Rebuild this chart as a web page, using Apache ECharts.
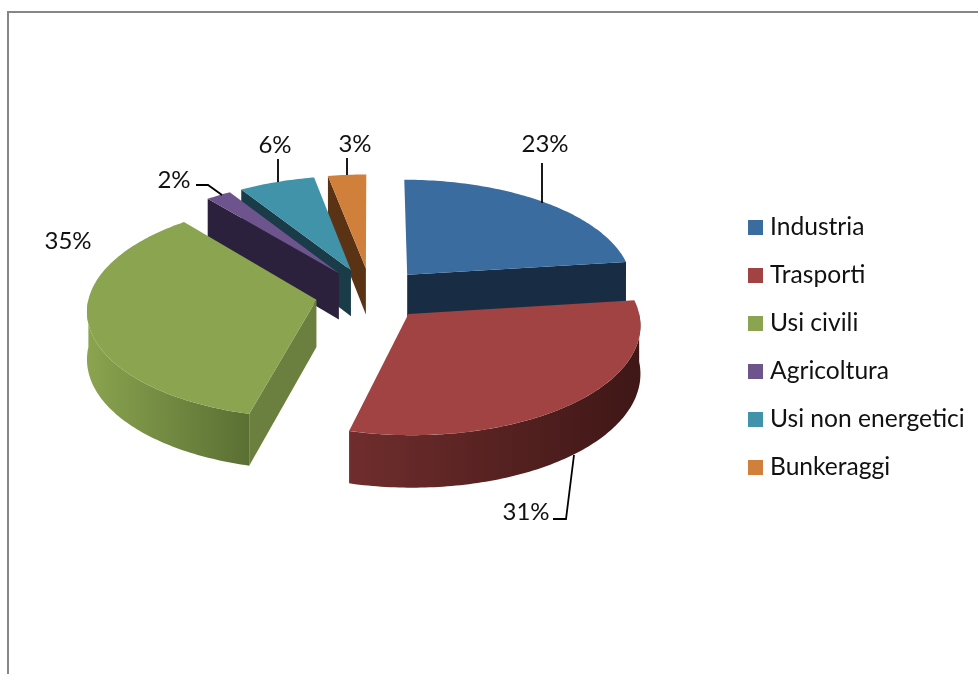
<!DOCTYPE html>
<html>
<head>
<meta charset="utf-8">
<style>html,body{margin:0;padding:0;background:#fff}#c{width:978px;height:674px}</style>
<script src="https://cdn.jsdelivr.net/npm/echarts@6/dist/echarts.min.js"></script>
</head>
<body>
<div id="c"></div>
<script>
const categories = ['Industria','Trasporti','Usi civili','Agricoltura','Usi non energetici','Bunkeraggi'];
const shares = [23,31,35,2,6,3];

const FONT = 'Lato, Carlito, "Open Sans", sans-serif';
const topColors = ['#3A6C9F','#A04342','#8AA44F','#6E548D','#4093A8','#D1803C'];
const radialWall = ['#182C44','#3E1716','#6B803F','#2C213C','#1A3B48','#5A3315'];
const arcWall = [
  ['#182C44','#182C44'],
  ['#702D2D','#3E1716'],
  ['#8AA44F','#5A6F33'],
  ['#2C213C','#2C213C'],
  ['#1A3B48','#1A3B48'],
  ['#5A3315','#5A3315']
];
const paintOrder = [4,6,5,3,2,1];
const labelLayout = [
  {x:545,y:144},{x:526,y:512},{x:68,y:241},{x:174,y:180},{x:275,y:145},{x:355,y:144}
];
const leaders = [
  [[542,163],[542,203]],
  [[553,519],[566,519],[574,455]],
  null,
  [[196,185],[208,185],[222,195]],
  [[278,159],[278,182]],
  [[347,158],[347,175]]
];

// projection parameters
const CX=371, CY=294, S=227, T=0.47, P=0.089, EXPLODE=0.245, H=47;
const total = shares.reduce((a,b)=>a+b,0);
function project(u,v,z){
  const k=1/(1-P*v);
  return [CX+S*u*k, CY+(S*T*v+z*H)*k];
}
function renderSlice(idx){
  return function(params, api){
    const val = api.value(0);
    let before=0; for(let i=0;i<idx;i++) before+=shares[i];
    const a0=before/total*360, a1=(before+val)/total*360;
    const rad=d=>d*Math.PI/180;
    const mid=rad((a0+a1)/2);
    const ox=EXPLODE*Math.sin(mid), oy=-EXPLODE*Math.cos(mid);
    const pt=(deg,z)=>project(ox+Math.sin(rad(deg)),oy-Math.cos(rad(deg)),z);
    const apex=z=>project(ox,oy,z);
    const children=[];
    const wall=(deg)=>({type:'polygon',shape:{points:[apex(0),pt(deg,0),pt(deg,1),apex(1)]},
      style:{fill:radialWall[idx]},silent:true});
    if(-Math.cos(rad(a0-90))>0.01) children.push(wall(a0));
    if(-Math.cos(rad(a1+90))>0.01) children.push(wall(a1));
    const f0=Math.max(a0,90), f1=Math.min(a1,270);
    if(f1>f0){
      const up=[],dn=[];
      for(let d=f0;d<=f1+1e-6;d+=1){up.push(pt(d,0));dn.unshift(pt(d,1));}
      up.push(pt(f1,0));dn.unshift(pt(f1,1));
      const xs=up.map(p=>p[0]);
      const xl=Math.min(...xs), xr=Math.max(...xs);
      const stops=arcWall[idx];
      const g=new echarts.graphic.LinearGradient(xl,0,xr,0,[{offset:0,color:stops[0]},{offset:1,color:stops[1]}],true);
      children.push({type:'polygon',shape:{points:up.concat(dn)},style:{fill:g},silent:true});
    }
    const pts=[apex(0)];
    for(let d=a0;d<a1;d+=1) pts.push(pt(d,0));
    pts.push(pt(a1,0));
    children.push({type:'polygon',shape:{points:pts},style:{fill:topColors[idx]},silent:true});
    const lay=labelLayout[idx];
    if(leaders[idx]) children.push({type:'polyline',shape:{points:leaders[idx]},style:{stroke:'#000',lineWidth:1.8,fill:null},silent:true});
    children.push({type:'text',x:lay.x,y:lay.y,style:{text:val+'%',fill:'#111',font:'24px '+FONT,align:'center',verticalAlign:'middle'},silent:true});
    return {type:'group',children};
  };
}
const chart=echarts.init(document.getElementById('c'),null,{renderer:'canvas'});
chart.setOption({
  animation:false,
  backgroundColor:'#fff',
  legend:{
    show:true,orient:'vertical',left:743,top:210,itemWidth:15,itemHeight:15,itemGap:23,
    icon:'rect',data:categories,selectedMode:false,
    textStyle:{fontFamily:FONT,fontSize:24.6,color:'#111',lineHeight:24,padding:[0,0,0,2]}
  },
  graphic:[{type:'polyline',silent:true,shape:{points:[[8,674],[8,12],[978,12]]},style:{stroke:'#868686',lineWidth:2,fill:null}}],
  series:categories.map((name,i)=>({
    type:'custom',name,coordinateSystem:'none',z:paintOrder[i],
    itemStyle:{color:topColors[i]},
    renderItem:renderSlice(i),
    data:[[shares[i]]]
  }))
});
</script>
</body>
</html>
